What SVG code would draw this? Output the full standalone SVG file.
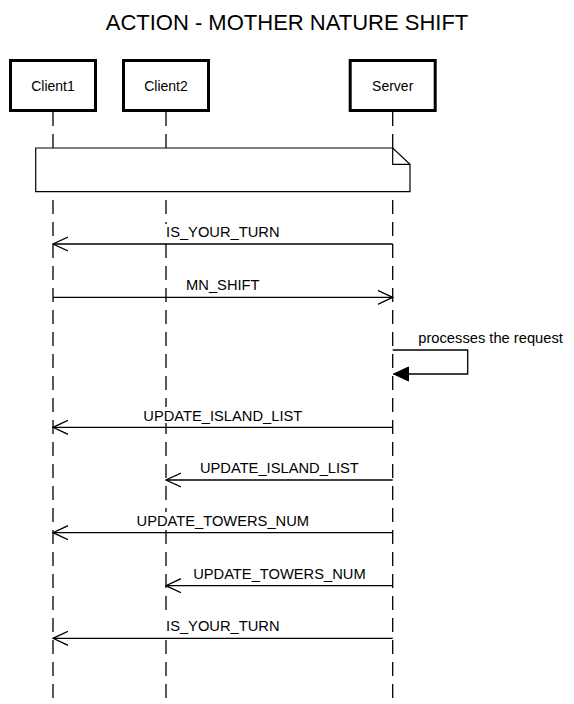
<svg xmlns="http://www.w3.org/2000/svg" width="574" height="704" viewBox="0 0 574 704">
<defs>
<style>
.t{font-family:"Liberation Sans",Arial,Helvetica,sans-serif;fill:#000}
.title{font-size:22px;text-anchor:middle}
.actor{fill:#fff;stroke:#000;stroke-width:3}
.alab{font-size:14px;text-anchor:middle}
.life{stroke:#000;stroke-width:1.3;stroke-dasharray:14 8;fill:none}
.msg{stroke:#000;stroke-width:1.3;fill:none}
.mlab{font-size:14.7px;text-anchor:middle}
.bg{fill:#fff}
</style>
<marker id="open" viewBox="0 0 16 16" refX="15" refY="8" markerWidth="16" markerHeight="16" markerUnits="userSpaceOnUse" orient="auto">
<path d="M0,1 L15,8 L0,15" fill="none" stroke="#000" stroke-width="1.3"/>
</marker>
<marker id="filled" viewBox="0 0 16 16" refX="15" refY="8" markerWidth="16" markerHeight="16" markerUnits="userSpaceOnUse" orient="auto">
<path d="M0,1 L15,8 L0,15 Z" fill="#000" stroke="#000" stroke-width="1"/>
</marker>
</defs>
<rect width="574" height="704" fill="#fff"/>
<text class="t title" x="287" y="30">ACTION - MOTHER NATURE SHIFT</text>

<g id="lifelines">
<line class="life" x1="53" y1="112" x2="53" y2="704"/>
<line class="life" x1="166" y1="112" x2="166" y2="704"/>
<line class="life" x1="392.7" y1="112" x2="392.7" y2="704"/>
</g>

<g id="client1">
<rect class="actor" x="10.5" y="60.5" width="85" height="50"/>
<text class="t alab" x="53" y="91">Client1</text>
</g>
<g id="client2">
<rect class="actor" x="123.5" y="60.5" width="85" height="50"/>
<text class="t alab" x="166" y="91">Client2</text>
</g>
<g id="server">
<rect class="actor" x="350.2" y="60.5" width="85" height="50"/>
<text class="t alab" x="392.7" y="91">Server</text>
</g>

<g id="note">
<path d="M35.7,148 L392.7,148 L410,164.3 L410,191.7 L35.7,191.7 Z" fill="#fff" stroke="#000" stroke-width="1.2"/>
<path d="M392.7,148 L392.7,164.3 L410,164.3" fill="none" stroke="#000" stroke-width="1.2"/>
</g>

<g id="connectors">
<rect class="bg" x="163" y="224" width="120" height="16"/>
<line class="msg" x1="392.7" y1="244" x2="53" y2="244" marker-end="url(#open)"/>
<text class="t mlab" x="222.8" y="237">IS_YOUR_TURN</text>

<rect class="bg" x="183" y="277" width="80" height="16"/>
<line class="msg" x1="53" y1="297.3" x2="392.7" y2="297.3" marker-end="url(#open)"/>
<text class="t mlab" x="222.8" y="290">MN_SHIFT</text>

<path class="msg" d="M392.7,350 L467.7,350 L467.7,374 L393.5,374" marker-end="url(#filled)"/>
<text class="t" font-size="14.7" x="418.3" y="343">processes the request</text>

<rect class="bg" x="138" y="407" width="170" height="16"/>
<line class="msg" x1="392.7" y1="427.3" x2="53" y2="427.3" marker-end="url(#open)"/>
<text class="t mlab" x="222.8" y="420.5">UPDATE_ISLAND_LIST</text>

<rect class="bg" x="195" y="460" width="170" height="16"/>
<line class="msg" x1="392.7" y1="480" x2="166" y2="480" marker-end="url(#open)"/>
<text class="t mlab" x="279.4" y="473">UPDATE_ISLAND_LIST</text>

<rect class="bg" x="131" y="512" width="184" height="16"/>
<line class="msg" x1="392.7" y1="532.7" x2="53" y2="532.7" marker-end="url(#open)"/>
<text class="t mlab" x="222.8" y="525.5">UPDATE_TOWERS_NUM</text>

<rect class="bg" x="187" y="565" width="184" height="16"/>
<line class="msg" x1="392.7" y1="585.7" x2="166" y2="585.7" marker-end="url(#open)"/>
<text class="t mlab" x="279.4" y="578.5">UPDATE_TOWERS_NUM</text>

<rect class="bg" x="163" y="618" width="120" height="16"/>
<line class="msg" x1="392.7" y1="638.3" x2="53" y2="638.3" marker-end="url(#open)"/>
<text class="t mlab" x="222.8" y="631">IS_YOUR_TURN</text>
</g>
</svg>
